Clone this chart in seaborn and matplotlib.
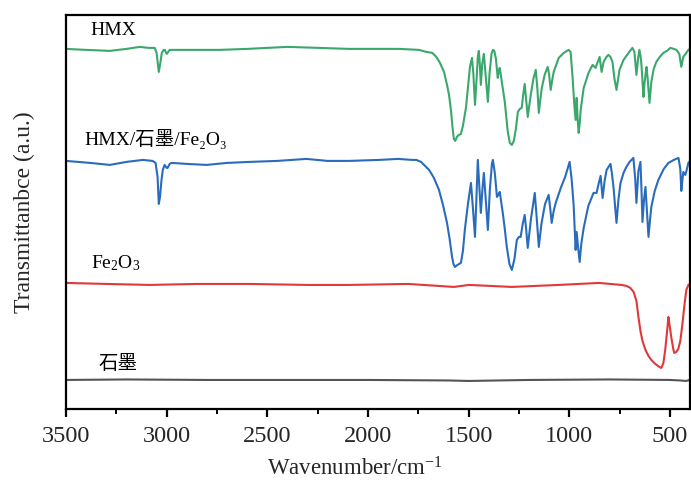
import matplotlib
matplotlib.use('Agg')
import matplotlib.pyplot as plt
import pandas as pd
import seaborn as sns
from matplotlib.ticker import MultipleLocator

# FTIR spectra, arbitrary units (stacked)
hmx_wn = [3500, 3400, 3282, 3200, 3133, 3090, 3059, 3050, 3039, 3032, 3024, 3015,
          3009, 3000, 2992, 2985, 2850, 2737, 2600, 2400, 2250, 2093, 1950, 1845,
          1746, 1710, 1680, 1660, 1642, 1622, 1607, 1597, 1587, 1580, 1573, 1566,
          1558, 1548, 1538, 1528, 1513, 1503, 1493, 1483, 1476, 1468, 1460, 1454,
          1449, 1444, 1439, 1432, 1424, 1417, 1404, 1396, 1386, 1379, 1372, 1364,
          1355, 1350, 1345, 1335, 1320, 1305, 1295, 1285, 1275, 1265, 1255, 1245,
          1236, 1228, 1221, 1214, 1206, 1199, 1191, 1178, 1166, 1158, 1151, 1143,
          1136, 1122, 1107, 1100, 1092, 1085, 1077, 1052, 1027, 1003, 993, 983,
          975, 968, 963, 958, 953, 948, 943, 928, 904, 884, 869, 849, 839, 829,
          815, 805, 795, 785, 775, 765, 758, 750, 730, 705, 686, 676, 666, 658,
          651, 645, 641, 631, 626, 621, 616, 610, 601, 596, 592, 580, 567, 550,
          532, 515, 497, 480, 467, 453, 443, 433, 418, 408, 400]
hmx_val = [360, 359, 358, 360, 362, 361, 361, 356, 337, 345, 356, 359,
           359, 355, 357, 359, 359, 359, 360, 362, 361, 360, 360, 360,
           359, 357, 356, 352, 346, 337, 324, 314, 298, 282, 270, 268,
           272, 274, 275, 283, 301, 322, 342, 351, 335, 304, 330, 352,
           358, 345, 324, 345, 355, 338, 307, 335, 355, 359, 358, 350,
           331, 338, 341, 327, 307, 277, 266, 264, 268, 280, 297, 300,
           301, 315, 325, 310, 292, 302, 314, 330, 339, 320, 296, 310,
           321, 334, 342, 335, 319, 328, 337, 351, 356, 359, 357, 331,
           305, 289, 311, 290, 276, 285, 299, 321, 336, 344, 341, 352, 337, 347,
           352, 354, 352, 347, 330, 319, 328, 339, 349, 356, 361, 357, 334, 350,
           359, 352, 344, 312, 325, 334, 342, 330, 306, 318, 327, 340, 347, 352,
           356, 358, 361, 360, 359, 355, 342, 352, 356, 359, 360]

mix_wn = [3500, 3380, 3282, 3200, 3118, 3070, 3055, 3045, 3039, 3033, 3026, 3019,
          3010, 3000, 2995, 2985, 2975, 2900, 2801, 2700, 2588, 2450, 2306, 2200,
          2093, 1944, 1850, 1781, 1760, 1736, 1716, 1696, 1672, 1647, 1627, 1607,
          1594, 1582, 1575, 1568, 1555, 1538, 1528, 1518, 1503, 1488, 1478, 1468,
          1461, 1454, 1447, 1439, 1431, 1424, 1415, 1404, 1394, 1384, 1379, 1369,
          1359, 1352, 1345, 1330, 1320, 1310, 1297, 1285, 1272, 1260, 1250, 1241,
          1231, 1221, 1213, 1206, 1190, 1171, 1161, 1151, 1138, 1120, 1102, 1094,
          1087, 1077, 1067, 1040, 1020, 998, 988, 978, 968, 963, 955, 948, 940,
          928, 905, 879, 864, 854, 844, 834, 824, 814, 795, 788, 780, 765, 755,
          745, 730, 716, 700, 681, 672, 666, 656, 646, 641, 636, 628, 621, 613,
          606, 598, 592, 575, 557, 530, 507, 480, 457, 448, 443, 438, 433, 423,
          415, 408, 400]
mix_val = [248, 246, 244, 247, 249, 248, 246, 232, 205, 212, 228, 239,
           244, 241, 241, 245, 246, 245, 244, 246, 247, 248, 250, 248,
           248, 249, 250, 249, 249, 247, 243, 239, 231, 219, 204, 186,
           170, 152, 145, 142, 144, 146, 158, 180, 205, 226, 200, 172,
           210, 249, 225, 196, 220, 236, 210, 179, 220, 245, 249, 235,
           212, 214, 217, 196, 180, 162, 145, 139, 150, 169, 172, 172,
           185, 194, 178, 161, 190, 216, 190, 162, 185, 205, 214, 200,
           186, 198, 206, 222, 232, 247, 230, 204, 159, 177, 160, 147, 165,
           181, 203, 216, 216, 225, 233, 211, 228, 239, 245, 236, 222, 186, 210,
           226, 236, 242, 247, 251, 230, 206, 238, 247, 220, 187, 210, 222, 195,
           172, 190, 202, 218, 229, 240, 246, 249, 251, 240, 218, 228, 237, 234,
           240, 246, 248]

fe_wn = [3500, 3300, 3084, 2850, 2588, 2300, 2093, 1800, 1573, 1498, 1285, 1052,
         852, 740, 715, 696, 680, 666, 656, 646, 636, 621, 606, 592, 572, 552,
         542, 532, 523, 515, 507, 502, 493, 483, 478, 468, 458, 448, 438, 428,
         418, 408, 400]
fe_val = [126, 125, 124, 125, 125, 124, 124, 125, 122, 124, 122, 124,
          126, 124, 123, 121, 117, 108, 92, 78, 68, 59, 53, 49, 45, 42,
          41, 46, 59, 75, 92, 85, 72, 60, 56, 57, 60, 68, 84, 103,
          119, 124, 125]

gr_wn = [3500, 3200, 2800, 2400, 2000, 1600, 1500, 1200, 800, 500, 450, 420, 400]
gr_val = [29, 29.5, 29, 29, 29, 28.5, 28, 29, 29.5, 29, 28.5, 28, 29]

samples = ['HMX', 'HMX/石墨/Fe2O3', 'Fe2O3', '石墨']
colors = ['#3aa86c', '#2a6cbc', '#e0393c', '#555555']

df = pd.concat([
    pd.DataFrame({'wn': hmx_wn, 'val': hmx_val, 'sample': samples[0]}),
    pd.DataFrame({'wn': mix_wn, 'val': mix_val, 'sample': samples[1]}),
    pd.DataFrame({'wn': fe_wn, 'val': fe_val, 'sample': samples[2]}),
    pd.DataFrame({'wn': gr_wn, 'val': gr_val, 'sample': samples[3]}),
])

sns.set_theme(style='ticks')
plt.rcParams['font.family'] = ['Liberation Serif', 'Noto Sans CJK SC']
plt.rcParams['mathtext.fontset'] = 'custom'
plt.rcParams['mathtext.rm'] = 'Liberation Serif'
plt.rcParams['mathtext.it'] = 'Liberation Serif:italic'

fig = plt.figure(figsize=(6.91, 4.80), dpi=100)
ax = fig.add_axes([0.0955, 0.148, 0.903, 0.821])

sns.lineplot(data=df, x='wn', y='val', hue='sample', hue_order=samples,
             palette=colors, estimator=None, legend=False, linewidth=1.5, ax=ax)

ax.set_xlim(3500, 400)
ax.set_ylim(0, 394)
ax.xaxis.set_major_locator(MultipleLocator(500))
ax.xaxis.set_minor_locator(MultipleLocator(250))
ax.tick_params(axis='x', which='major', direction='out', length=6, width=1.6,
               labelsize=17.5, color='black', pad=6)
ax.tick_params(axis='x', which='minor', direction='out', length=3.5, width=1.4,
               color='black')
ax.set_yticks([])
for s in ax.spines.values():
    s.set_linewidth(1.6)
    s.set_color('black')

ax.set_xlabel('Wavenumber/cm$^{-1}$', fontsize=16.5, labelpad=8, x=0.463)
ax.set_ylabel('Transmittanbce (a.u.)', fontsize=17, labelpad=22)

lab = dict(fontsize=14, va='baseline', ha='left', color='black')
ax.text(3381, 374, 'HMX', **lab)
ax.text(3411, 264, 'HMX/石墨/Fe₂O₃',
        family=['Liberation Serif', 'DejaVu Serif', 'Noto Sans CJK SC'], **lab)
ax.text(3376, 141, 'Fe$_2$O$_3$', **lab)
ax.text(3336, 40, '石墨', family=['Noto Sans CJK SC'], **lab)

fig.savefig('out.png', dpi=100)
